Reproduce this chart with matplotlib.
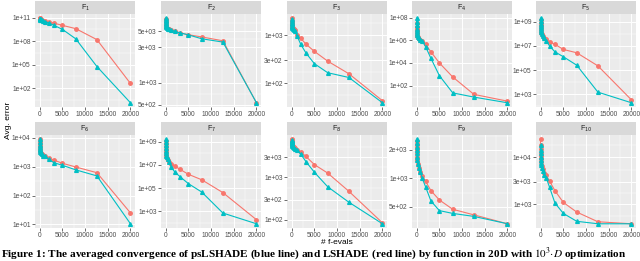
import matplotlib
matplotlib.use("Agg")
import matplotlib.pyplot as plt
import numpy as np

# f-evals at which the averaged error was recorded
fevals = [0, 20, 32, 50, 80, 126, 200, 317, 502, 796, 1262, 2000, 3170, 5024, 7962, 12619, 20000]

titles = ["F$_{1}$", "F$_{2}$", "F$_{3}$", "F$_{4}$", "F$_{5}$",
          "F$_{6}$", "F$_{7}$", "F$_{8}$", "F$_{9}$", "F$_{10}$"]

# LSHADE (red)
lshade = [
    [8.1e10, 7.6e10, 7.2e10, 6.9e10, 6.6e10, 6.2e10, 5.8e10, 5.2e10, 4.6e10, 3.8e10, 3.2e10, 2.8e10, 1.9e10, 1.0e10, 3.8e9, 1.5e8, 3.8e2],
    [7400, 7000, 6700, 6400, 6100, 5900, 5700, 5550, 5400, 5300, 5200, 5000, 4750, 4470, 4170, 3700, 530],
    [2300, 2050, 1900, 1750, 1650, 1550, 1480, 1420, 1360, 1300, 1030, 880, 660, 465, 290, 158, 43],
    [3e7, 1.5e7, 9e6, 6e6, 4e6, 3e6, 2.3e6, 1.8e6, 1.4e6, 1.1e6, 9e5, 4.3e5, 9.5e4, 1e4, 5.8e2, 1.7e1, 4.3],
    [1.5e9, 8e8, 5e8, 3.5e8, 2.5e8, 1.8e8, 1.3e8, 9e7, 6.5e7, 4.8e7, 3.5e7, 2.2e7, 1.35e7, 5.1e6, 2.7e6, 2.2e5, 3.3e2],
    [9000, 7000, 5800, 4900, 4200, 3700, 3300, 3000, 2700, 2500, 2400, 2000, 1700, 1320, 980, 620, 25],
    [1.2e9, 6e8, 3.5e8, 2e8, 1.3e8, 8e7, 5.5e7, 4e7, 2.8e7, 1.9e7, 1.26e7, 8.1e6, 4.2e6, 1.55e6, 5.2e5, 4e4, 1.8e2],
    [7900, 7400, 7000, 6700, 6400, 6100, 5800, 5500, 5200, 4800, 4400, 4000, 3100, 2000, 1260, 470, 85],
    [2500, 2300, 2150, 2000, 1850, 1700, 1550, 1420, 1300, 1180, 1070, 930, 740, 590, 470, 410, 330],
    [24000, 18000, 15000, 12500, 10500, 9000, 7800, 6500, 5500, 4700, 4100, 3100, 1950, 1100, 690, 430, 390],
]

# psLSHADE (blue)
pslshade = [
    [7.4e10, 7.1e10, 6.8e10, 6.5e10, 6.0e10, 5.6e10, 5.2e10, 4.8e10, 4.2e10, 3.3e10, 2.8e10, 2.2e10, 1.0e10, 3.1e9, 1.9e8, 5.5e4, 1.3],
    [7500, 7100, 6800, 6500, 6200, 5950, 5750, 5550, 5400, 5300, 5200, 4980, 4740, 4450, 3940, 3550, 530],
    [2200, 2000, 1850, 1700, 1600, 1500, 1430, 1370, 1310, 1250, 955, 660, 430, 257, 166, 132, 39],
    [8.7e7, 4e7, 2e7, 1e7, 6e6, 4e6, 2.8e6, 2e6, 1.5e6, 1.1e6, 8e5, 2.7e5, 2.5e4, 7.6e2, 2.3e1, 9.8, 3.1],
    [2e9, 1.2e9, 7e8, 4.5e8, 3e8, 2e8, 1.4e8, 9.5e7, 6.5e7, 4.5e7, 2.6e7, 9.8e6, 3.2e6, 1.26e6, 2.5e5, 1.45e3, 1.9e2],
    [9000, 7000, 5800, 4900, 4200, 3700, 3300, 3000, 2700, 2450, 2300, 1800, 1380, 1120, 780, 480, 10.5],
    [1.7e9, 9e8, 5e8, 2.8e8, 1.6e8, 1e8, 6.5e7, 4.5e7, 3e7, 1.9e7, 6.8e6, 2.5e6, 9.8e5, 2.4e5, 4.5e4, 6.8e2, 80],
    [7600, 7200, 6800, 6500, 6200, 5900, 5600, 5300, 5000, 4700, 4300, 3550, 2350, 1320, 600, 260, 81],
    [2600, 2350, 2150, 2000, 1850, 1700, 1550, 1420, 1300, 1180, 1000, 810, 575, 455, 425, 395, 330],
    [18000, 14000, 12000, 10000, 8800, 7600, 6700, 5800, 5000, 4300, 3630, 2290, 1070, 645, 440, 390, 390],
]

yticks = [
    [1e2, 1e5, 1e8, 1e11],
    [500, 1000, 3000, 5000],
    [100, 300, 1000],
    [1e2, 1e4, 1e6, 1e8],
    [1e3, 1e5, 1e7, 1e9],
    [1e1, 1e2, 1e3, 1e4],
    [1e3, 1e5, 1e7, 1e9],
    [100, 300, 1000, 3000],
    [500, 1000, 2000],
    [1000, 3000, 10000],
]
xticks = [0, 5000, 10000, 15000, 20000]

RED = "#F8766D"
BLUE = "#00BFC4"
W, H = 640, 261

fig = plt.figure(figsize=(6.4, 2.61), dpi=100)
plt.rcParams['font.family'] = ['Liberation Sans', 'DejaVu Sans']

lefts = [35, 161, 287, 412, 536]
pw = 100
rows = [(1, 14, 107), (122, 135, 228)]  # strip top, plot top, plot bottom

for i in range(10):
    r, c = divmod(i, 5)
    st, pt, pb = rows[r]
    x0 = lefts[c]
    ax = fig.add_axes([x0 / W, 1 - pb / H, pw / W, (pb - pt) / H])
    sax = fig.add_axes([x0 / W, 1 - pt / H, pw / W, (pt - st) / H])
    sax.set_facecolor("#D9D9D9")
    sax.set_xticks([]); sax.set_yticks([])
    for s in sax.spines.values():
        s.set_visible(False)
    sax.text(0.5, 0.45, titles[i], ha="center", va="center", fontsize=5, color="#1A1A1A",
             transform=sax.transAxes)

    ax.set_facecolor("#EBEBEB")
    ax.set_yscale("log")
    ax.plot(fevals, lshade[i], color=RED, lw=0.8, marker="o", ms=2.5, zorder=3)
    ax.plot(fevals, pslshade[i], color=BLUE, lw=0.8, marker="^", ms=2.7, zorder=4)
    ax.margins(x=0.05, y=0.05)
    ax.autoscale_view()
    ylo, yhi = ax.get_ylim()
    ax.set_ylim(ylo, yhi)
    xlo, xhi = ax.get_xlim()

    # major / minor grid like ggplot
    lt = np.log10(yticks[i])
    ext = np.concatenate([[2 * lt[0] - lt[1]], lt, [2 * lt[-1] - lt[-2]]])
    minors = 10 ** ((ext[:-1] + ext[1:]) / 2)
    for m in minors:
        if ylo < m < yhi:
            ax.axhline(m, color="white", lw=0.35, zorder=1)
    for m in [-2500, 2500, 7500, 12500, 17500, 22500]:
        if xlo < m < xhi:
            ax.axvline(m, color="white", lw=0.35, zorder=1)
    for t in yticks[i]:
        ax.axhline(t, color="white", lw=0.7, zorder=1)
    for t in xticks:
        ax.axvline(t, color="white", lw=0.7, zorder=1)

    ax.set_yticks(yticks[i])
    ax.set_yticklabels(["{:.0e}".format(t) for t in yticks[i]])
    ax.yaxis.set_minor_locator(matplotlib.ticker.NullLocator())
    ax.set_xticks(xticks)
    ax.set_xticklabels([str(t) for t in xticks])
    ax.tick_params(labelsize=4.8, labelcolor="#4D4D4D", color="#333333", length=2, width=0.5, pad=1.2)
    for s in ax.spines.values():
        s.set_visible(False)

fig.text(9 / W, 1 - 120 / H, "Avg. error", rotation=90, ha="center", va="center", fontsize=6)
fig.text(337 / W, 1 - 243 / H, "# f-evals", ha="center", va="center", fontsize=6)
fig.text(1 / W, 1 - 254 / H,
         r"Figure 1: The averaged convergence of psLSHADE (blue line) and LSHADE (red line) by function in 20D with $10^3{\cdot}D$ optimization",
         ha="left", va="center", fontsize=8.15, fontweight="bold", family=["Liberation Serif"],
         math_fontfamily="stix")

fig.savefig("out.png", dpi=100)
